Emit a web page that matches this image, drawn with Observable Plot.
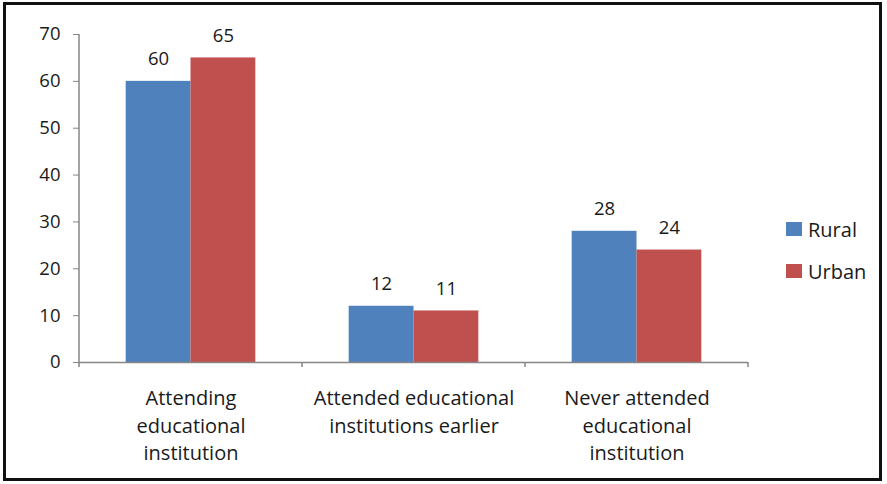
<!DOCTYPE html>
<html>
<head>
<meta charset="utf-8">
<script src="https://cdn.jsdelivr.net/npm/d3@7"></script>
<script src="https://cdn.jsdelivr.net/npm/@observablehq/plot@0.6"></script>
<style>
  html, body { margin: 0; padding: 0; background: #fff; }
  #wrap { position: relative; width: 887px; height: 484px; font-family: "Open Sans", Lato, sans-serif; }
  #border { position: absolute; left: 3px; top: 2px; width: 873px; height: 473px; border: 3px solid #111; box-sizing: content-box; pointer-events: none; }
  #legend { position: absolute; left: 786px; top: 208px; font-size: 20px; color: #1a1a1a; }
  .item { display: flex; align-items: center; height: 42px; }
  .sw { width: 16px; height: 14px; margin-right: 6px; }
</style>
</head>
<body>
<div id="wrap">
  <div id="chart"></div>
  <div id="legend"></div>
  <div id="border"></div>
</div>
<script>
const categories = [
  "Attending\neducational\ninstitution",
  "Attended educational\ninstitutions earlier",
  "Never attended\neducational\ninstitution"
];
const seriesNames = ["Rural", "Urban"];
const rural = [60, 12, 28];
const urban = [65, 11, 24];
const colors = ["#4F81BD", "#C0504D"];
const yTicks = [0, 10, 20, 30, 40, 50, 60, 70];

const data = [];
categories.forEach((c, i) => {
  data.push({cat: c, series: "Rural", value: rural[i]});
  data.push({cat: c, series: "Urban", value: urban[i]});
});

const textColor = "#1a1a1a";
const axisColor = "#868686";

const plot = Plot.plot({
  width: 887,
  height: 484,
  marginTop: 34,
  marginBottom: 122,
  marginLeft: 78,
  marginRight: 139,
  style: {fontFamily: "'Open Sans', Lato, sans-serif", background: "transparent"},
  fx: {domain: categories, padding: 0, label: null},
  x: {domain: seriesNames, paddingInner: 0, paddingOuter: 0.72, round: false, axis: null},
  y: {domain: [0, 70], label: null},
  color: {domain: seriesNames, range: colors},
  marks: [
    Plot.barY(data, {fx: "cat", x: "series", y: "value", fill: "series", inset: 0}),
    Plot.ruleY([0], {stroke: axisColor, strokeWidth: 1.5}),
    Plot.text(data, {fx: "cat", x: "series", y: "value", text: d => String(d.value), dy: -22, fontSize: 18.5, fill: textColor}),
    Plot.axisY({ticks: yTicks, tickSize: 6, tickPadding: 13, fontSize: 18.5, stroke: axisColor, color: textColor, label: null}),
    Plot.axisFx({anchor: "bottom", tickSize: 0, tickPadding: 23, fontSize: 20, lineHeight: 1.38, color: textColor, label: null})
  ]
});
document.getElementById("chart").appendChild(plot);

// axis line and Excel-style boundary ticks, positioned via the plot's own scales
const svg = d3.select(plot);
const fx = plot.scale("fx");
const y = plot.scale("y");
const x0 = fx.apply(categories[0]);
const y0 = y.apply(0);
const yTop = y.apply(70);
const g = svg.append("g").attr("stroke", axisColor).attr("stroke-width", 1.5);
g.append("line").attr("x1", x0).attr("x2", x0).attr("y1", yTop).attr("y2", y0 + 5);
categories.forEach(c => {
  const b = fx.apply(c) + fx.bandwidth;
  g.append("line").attr("x1", b).attr("x2", b).attr("y1", y0).attr("y2", y0 + 5);
});

// legend
const leg = document.getElementById("legend");
seriesNames.forEach((s, i) => {
  const it = document.createElement("div");
  it.className = "item";
  it.innerHTML = `<div class="sw" style="background:${colors[i]}"></div><span>${s}</span>`;
  leg.appendChild(it);
});
</script>
</body>
</html>
